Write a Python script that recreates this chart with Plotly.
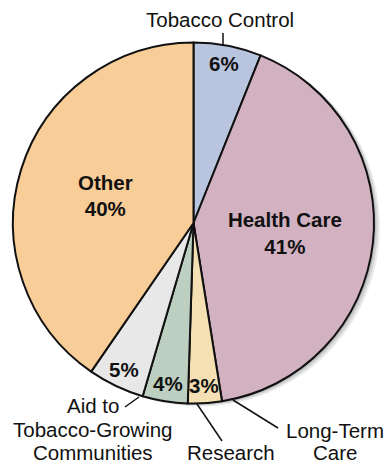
import math
import plotly.graph_objects as go

# ---- data ----
categories = ["Tobacco Control", "Health Care", "Long-Term Care", "Research",
              "Aid to Tobacco-Growing Communities", "Other"]
values = [6, 41, 3, 4, 5, 40]
inside_names = ["", "Health Care", "", "", "", "Other"]
colors = ["#b9c5df", "#d2b1c1", "#f4e0b3", "#bccfc1", "#e8e8e8", "#f8cd97"]

W, H = 386, 466
FONT = "Liberation Sans, Arial, sans-serif"
FS = 20.5

def px(x):
    return x / W

def py(y):
    return 1 - y / H

# pie geometry (pixels)
cx, cy, R = 193.5, 223, 180.5

# large slices get plotly's own inside text; small slices get a label near the rim
texts = [(f"<b>{n}<br>{v}%</b>" if n else "") for n, v in zip(inside_names, values)]

fig = go.Figure(go.Pie(
    labels=categories,
    values=values,
    text=texts,
    textinfo="text",
    textposition="inside",
    insidetextorientation="horizontal",
    sort=False,
    direction="clockwise",
    rotation=0,
    marker=dict(colors=colors, line=dict(color="#111111", width=2)),
    textfont=dict(family=FONT, size=FS, color="#111111"),
    domain=dict(x=[px(cx - R), px(cx + R)], y=[py(cy + R), py(cy - R)]),
    showlegend=False,
    hoverinfo="label+percent",
))

annotations = []
total = sum(values)
cum = 0
for n, v in zip(inside_names, values):
    mid = (cum + v / 2) / total * 2 * math.pi
    cum += v
    if n:
        continue
    rr = 0.9 * R
    x = cx + rr * math.sin(mid)
    y = cy - rr * math.cos(mid)
    annotations.append(dict(text=f"<b>{v}%</b>", x=px(x), y=py(y), xref="paper", yref="paper",
                            showarrow=False, xanchor="center", yanchor="middle",
                            font=dict(family=FONT, size=FS, color="#111111")))

# outside labels, one line each
outside = [
    ("Tobacco Control", 220, 20),
    ("Aid to", 92.5, 405),
    ("Tobacco-Growing", 92.5, 429),
    ("Communities", 92.5, 452),
    ("Research", 231, 452),
    ("Long-Term", 335, 430),
    ("Care", 335, 452),
]
for t, x, y in outside:
    annotations.append(dict(text=t, x=px(x), y=py(y), xref="paper", yref="paper",
                            showarrow=False, xanchor="center", yanchor="middle", borderpad=0,
                            font=dict(family=FONT, size=FS, color="#111111")))

leaders = [((223, 33), (223, 45)),
           ((125, 407), (139, 397)),
           ((222, 441), (197, 404)),
           ((278, 428), (233, 400))]
shapes = [dict(type="line", xref="paper", yref="paper",
               x0=px(a[0]), y0=py(a[1]), x1=px(b[0]), y1=py(b[1]),
               line=dict(color="#111111", width=1.5))
          for a, b in leaders]

# soft shadow behind the pie
for off, op in [(6, 0.08), (4, 0.10), (2, 0.14)]:
    shapes.insert(0, dict(type="circle", xref="paper", yref="paper", layer="below",
                          x0=px(cx - R + off), x1=px(cx + R + off),
                          y0=py(cy + R + off * 0.5), y1=py(cy - R + off * 0.5),
                          fillcolor=f"rgba(0,0,0,{op})", line=dict(width=0)))

fig.update_layout(
    width=W, height=H,
    margin=dict(l=0, r=0, t=0, b=0),
    paper_bgcolor="white", plot_bgcolor="white",
    annotations=annotations,
    shapes=shapes,
)

fig.write_html("out.html")
